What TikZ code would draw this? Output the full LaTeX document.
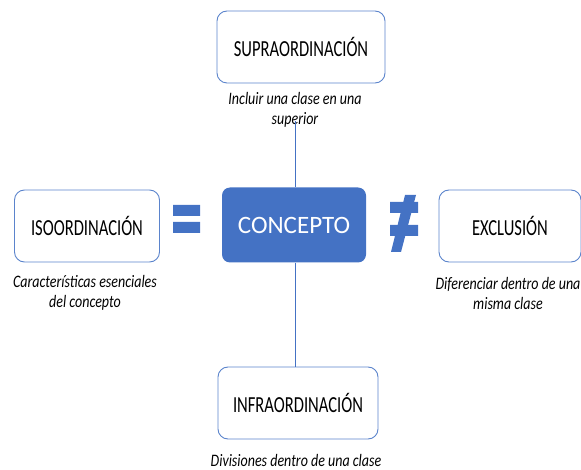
\documentclass[tikz,border=0pt]{standalone}
\usepackage{fontspec}
\setmainfont{Carlito}
\newfontfamily\boxfont[FakeStretch=0.72]{Carlito}
\newfontfamily\capfont[FakeStretch=0.8]{Carlito}
\usepackage{tikz}
\usetikzlibrary{calc}
\definecolor{ofblue}{HTML}{4472C4}
\definecolor{edgeblue}{HTML}{5B84CC}

\begin{document}
\begin{tikzpicture}[x=1pt, y=-1pt,
    cat/.style={draw=edgeblue, line width=0.9pt, rounded corners=10pt, fill=white,
        minimum width=#1, minimum height=72pt, inner sep=0,
        font=\boxfont\fontsize{23}{25}\selectfont},
    cat/.default=150pt,
    capt/.style={align=center, font=\capfont\itshape\fontsize{17.5}{20}\selectfont},
    link/.style={draw=ofblue, line width=0.9pt},
    sign/.style={fill=ofblue, draw=none}]
    \useasboundingbox (0,0) rectangle (581,470);
            % categories
            \node[cat=168pt] (supra) at (301,47) {SUPRAORDINACIÓN};
            \node[cat=145pt] (iso) at (87,226) {ISOORDINACIÓN};
            \node[cat=142pt] (excl) at (510,226) {EXCLUSIÓN};
            \node[cat=160pt] (infra) at (298,403) {INFRAORDINACIÓN};
            \node[fill=ofblue, rounded corners=8pt, minimum width=144pt, minimum height=75pt,
                inner sep=0, text=white, font=\fontsize{25}{27}\selectfont] (concepto) at (294,225) {CONCEPTO};
            % captions
            \node[capt] (csupra) at (295,110) {Incluir una clase en una\\superior};
            \node[capt] (ciso) at (85,293) {Características esenciales\\del concepto};
            \node[capt] (cexcl) at (508,293) {Diferenciar dentro de una\\misma clase};
            \node[capt] (cinfra) at (296,460) {Divisiones dentro de una clase};
            % connectors
            \coordinate (ctop) at (295,121);
            \draw[link] (ctop) -- (ctop |- concepto.north);
            \draw[link] (ctop |- concepto.south) -- (ctop |- infra.north);
            % equal and not equal signs
            \path[sign] (173,205) rectangle (200,216) (173,222) rectangle (200,233);
            \path[sign] (390,202) rectangle (418,213) (390,225) rectangle (418,236);
            \path[sign] (405,195) -- (416,195) -- (401,252) -- (391,252) -- cycle;
        \end{tikzpicture}
\end{document}
